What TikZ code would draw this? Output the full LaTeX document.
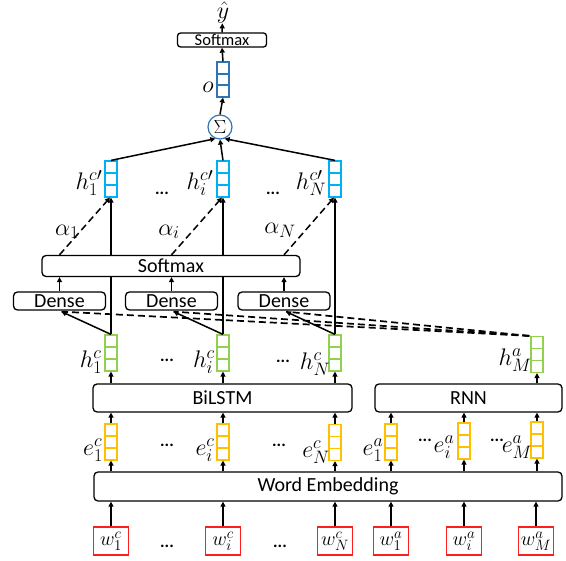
\RequirePackage{fix-cm}
\documentclass[tikz,border=0pt]{standalone}
\usepackage{fontspec}
\setmainfont{Carlito}
\usetikzlibrary{arrows.meta}
\DeclareMathSizes{24}{24}{18}{14}
\DeclareMathSizes{20}{20}{15}{12}
\pgfdeclarelayer{bg}
\pgfsetlayers{bg,main}
\definecolor{hpblue}{RGB}{0,176,240}
\definecolor{oblue}{RGB}{46,117,182}
\definecolor{hgreen}{RGB}{146,208,80}
\definecolor{eorange}{RGB}{255,192,0}
\definecolor{wred}{RGB}{255,30,30}
\begin{document}
\begin{tikzpicture}[x=1pt,y=-1pt,
  box/.style={draw, line width=1.3pt, rounded corners=4pt, fill=white, inner sep=0pt, font=\fontsize{20}{22}\selectfont},
  vec/.style={draw=#1, line width=1.2pt, fill=white, minimum width=12pt, minimum height=36pt, inner sep=0pt,
    path picture={\draw[#1,line width=1.2pt]
      ([yshift=-12pt]path picture bounding box.north west) -- ([yshift=-12pt]path picture bounding box.north east)
      ([yshift=12pt]path picture bounding box.south west) -- ([yshift=12pt]path picture bounding box.south east);}},
  wbox/.style={draw=wred, line width=1.2pt, minimum width=35pt, minimum height=28pt, inner sep=0pt, font=\fontsize{20}{22}\selectfont},
  lab/.style={inner sep=0pt, font=\fontsize{24}{26}\selectfont},
  dotsn/.style={inner sep=0pt, font=\fontsize{17}{18}\selectfont\bfseries},
  arr/.style={-{Triangle[length=5pt,width=5pt]}, line width=1.5pt},
  dashln/.style={line width=1.7pt, dash pattern=on 7pt off 4pt},
]
\useasboundingbox (0,0) rectangle (566,561);

% top
\node[lab] (yhat) at (223,12.5) {$\hat{y}$};
\node[box, rounded corners=3pt, minimum width=89pt, minimum height=14pt, font=\fontsize{16.5}{16.5}\selectfont] (smt) at (222,40) {Softmax};
\node[vec=oblue, minimum height=35pt] (o) at (223,79.5) {};
\node[lab] (olab) at (208,87) {$o$};
\node[circle, draw=oblue, line width=1.2pt, minimum size=24pt, inner sep=0pt, font=\fontsize{19}{19}\selectfont] (sig) at (220,127) {$\Sigma$};

% h' vectors
\node[vec=hpblue] (hp1) at (111,179) {};
\node[vec=hpblue] (hpi) at (223,179) {};
\node[vec=hpblue] (hpN) at (335,179) {};
\node[lab] (hp1l) at (89,183) {$h_1^{c\prime}$};
\node[lab] (hpil) at (200,183) {$h_i^{c\prime}$};
\node[lab] (hpNl) at (311,183) {$h_N^{c\prime}$};
\node[dotsn] (dp1) at (162,193) {...};
\node[dotsn] (dp2) at (273,193) {...};

% alphas
\node[lab] (al1) at (67,232) {$\alpha_1$};
\node[lab] (ali) at (169,232) {$\alpha_i$};
\node[lab] (alN) at (280,230) {$\alpha_N$};

% softmax & dense
\node[box, minimum width=258pt, minimum height=21pt] (sm) at (171,266) {Softmax};
\node[box, minimum width=92pt, minimum height=18pt] (d1) at (59.5,301) {Dense};
\node[box, minimum width=92pt, minimum height=18pt] (d2) at (171.5,301) {Dense};
\node[box, minimum width=92pt, minimum height=18pt] (d3) at (284,301) {Dense};

% h vectors
\node[vec=hgreen] (hc1) at (111,353) {};
\node[vec=hgreen] (hci) at (223,353) {};
\node[vec=hgreen] (hcN) at (335,353) {};
\node[vec=hgreen] (haM) at (537,354.5) {};
\node[lab] (hc1l) at (91,362) {$h_1^{c}$};
\node[lab] (hcil) at (204,362) {$h_i^{c}$};
\node[lab] (hcNl) at (315,364) {$h_N^{c}$};
\node[lab] (haMl) at (515,360) {$h_M^{a}$};
\node[dotsn] (dh1) at (167,360) {...};
\node[dotsn] (dh2) at (283,361) {...};

% BiLSTM, RNN
\node[box, minimum width=259pt, minimum height=28pt] (bil) at (222.5,398) {BiLSTM};
\node[box, minimum width=187pt, minimum height=28pt] (rnn) at (468.5,398) {RNN};

% e vectors
\node[vec=eorange] (ec1) at (111,442) {};
\node[vec=eorange] (eci) at (223,442) {};
\node[vec=eorange] (ecN) at (335,442.5) {};
\node[vec=eorange] (ea1) at (391,442) {};
\node[vec=eorange] (eai) at (464,441) {};
\node[vec=eorange] (eaM) at (537,440) {};
\node[lab] (ec1l) at (93,450) {$e_1^{c}$};
\node[lab] (ecil) at (205,450) {$e_i^{c}$};
\node[lab] (ecNl) at (316,452) {$e_N^{c}$};
\node[lab] (ea1l) at (373,450) {$e_1^{a}$};
\node[lab] (eail) at (444,447) {$e_i^{a}$};
\node[lab] (eaMl) at (517,447) {$e_M^{a}$};
\node[dotsn] (de1) at (167,445) {...};
\node[dotsn] (de2) at (279,445) {...};
\node[dotsn] (de3) at (425,440) {...};
\node[dotsn] (de4) at (497,440) {...};

% word embedding
\node[box, minimum width=468pt, minimum height=29pt] (we) at (328,486.5) {Word Embedding};

% w boxes
\node[wbox] (wc1) at (111,541) {$w_1^{c}$};
\node[wbox] (wci) at (223,541) {$w_i^{c}$};
\node[wbox] (wcN) at (335,541) {$w_N^{c}$};
\node[wbox] (wa1) at (391,541) {$w_1^{a}$};
\node[wbox] (wai) at (464,541) {$w_i^{a}$};
\node[wbox] (waM) at (536,541) {$w_M^{a}$};
\node[dotsn] (dw1) at (167,546) {...};
\node[dotsn] (dw2) at (280,546) {...};

% connectors
\foreach \n in {wc1,wci,wcN,wa1,wai,waM} \draw[arr] (\n) -- (\n |- we.south);
\foreach \n in {ec1,eci,ecN,ea1,eai,eaM} \draw[arr] (\n |- we.north) -- (\n.south);
\foreach \n in {ec1,eci,ecN} \draw[arr] (\n.north) -- (\n |- bil.south);
\foreach \n in {ea1,eai,eaM} \draw[arr] (\n.north) -- (\n |- rnn.south);
\foreach \n in {hc1,hci,hcN} \draw[arr] (\n |- bil.north) -- (\n.south);
\draw[arr] (haM |- rnn.north) -- (haM.south);

\coordinate (t1) at ([xshift=2pt,yshift=-1pt]d1.south);
\coordinate (t2) at ([xshift=2pt,yshift=-1pt]d2.south);
\coordinate (t3) at ([xshift=2pt,yshift=-1pt]d3.south);
\draw[dashln] ([xshift=-1pt]haM.north west) -- (t1);
\draw[dashln] ([xshift=-1pt]haM.north west) -- (t2);
\draw[dashln] ([xshift=-1pt]haM.north west) -- (t3);
\draw[arr] (hc1.north) -- (t1);
\draw[arr] (hci.north) -- (t2);
\draw[arr] (hcN.north) -- (t3);

\begin{pgfonlayer}{bg}
\draw[arr] (hc1.north) -- (hp1.south);
\draw[arr] (hci.north) -- (hpi.south);
\draw[arr] (hcN.north) -- (hpN.south);
\end{pgfonlayer}

\foreach \n in {d1,d2,d3} \draw[arr] (\n.north) -- (\n.north |- sm.south);
\draw[arr, dash pattern=on 7pt off 4pt] (d1.north |- sm.north) -- ([xshift=-1pt]hp1.south);
\draw[arr, dash pattern=on 7pt off 4pt] (d2.north |- sm.north) -- ([xshift=-1pt]hpi.south);
\draw[arr, dash pattern=on 7pt off 4pt] (d3.north |- sm.north) -- ([xshift=-1pt]hpN.south);

\draw[arr] (hp1.north) -- (sig.-112);
\draw[arr] (hpi.north) -- (sig.south);
\draw[arr] (hpN.north) -- (sig.-68);
\draw[arr] (sig.north) -- (o.south);
\draw[arr] (o.north) -- (smt.south);
\draw[arr] (smt.north) -- (yhat);
\end{tikzpicture}
\end{document}
